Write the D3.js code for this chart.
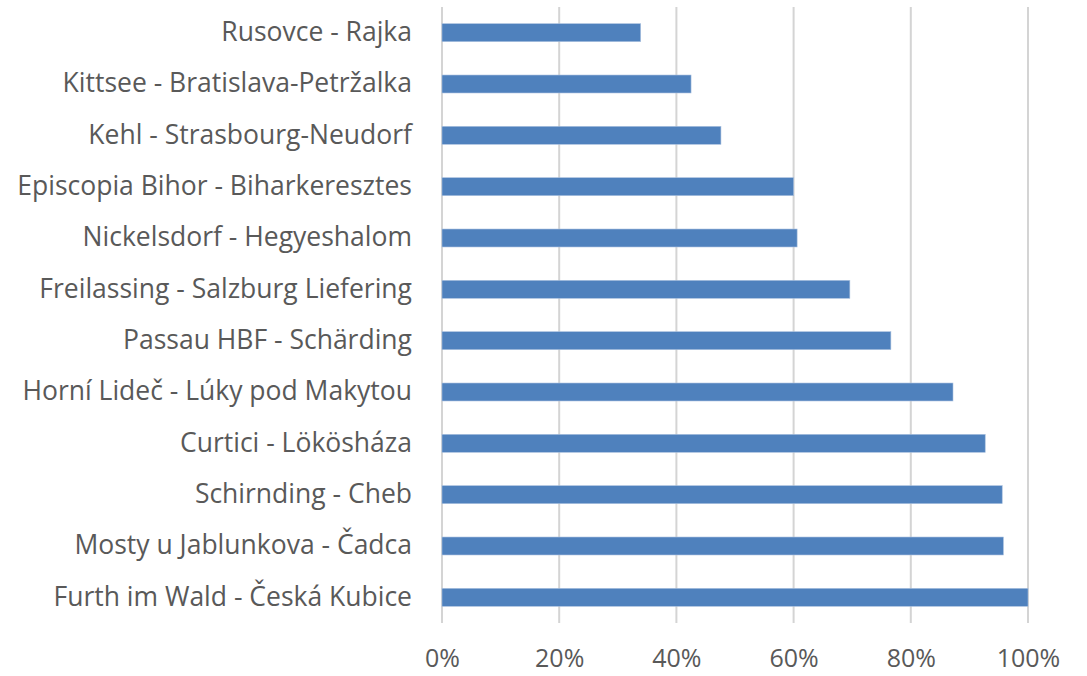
<!DOCTYPE html>
<html>
<head>
<meta charset="utf-8">
<script src="https://cdn.jsdelivr.net/npm/d3@7"></script>
<style>
  body { margin: 0; background: #fff; }
  svg text { font-family: "Open Sans", Lato, sans-serif; fill: #595959; }
</style>
</head>
<body>
<div id="chart"></div>
<script>
// crossings, top to bottom
const crossings = [
  "Rusovce - Rajka",
  "Kittsee - Bratislava-Petržalka",
  "Kehl - Strasbourg-Neudorf",
  "Episcopia Bihor - Biharkeresztes",
  "Nickelsdorf - Hegyeshalom",
  "Freilassing - Salzburg Liefering",
  "Passau HBF - Schärding",
  "Horní Lideč - Lúky pod Makytou",
  "Curtici - Lökösháza",
  "Schirnding - Cheb",
  "Mosty u Jablunkova - Čadca",
  "Furth im Wald - Česká Kubice"
];
const shares = [0.339, 0.425, 0.476, 0.600, 0.606, 0.696, 0.766, 0.872, 0.927, 0.956, 0.958, 1.0];
const xTicks = [0, 0.2, 0.4, 0.6, 0.8, 1.0];

const data = crossings.map((c, i) => ({name: c, value: shares[i]}));

const width = 1087, height = 676;
const margin = {top: 7, right: 59, bottom: 53, left: 442};
const innerW = width - margin.left - margin.right;
const innerH = height - margin.top - margin.bottom;

const svg = d3.select("#chart")
    .append("svg")
    .attr("width", width)
    .attr("height", height)
    .append("g")
    .attr("transform", "translate(" + margin.left + "," + margin.top + ")");

const x = d3.scaleLinear()
    .domain([0, 1])
    .range([0, innerW]);

const y = d3.scaleBand()
    .domain(crossings)
    .range([0, innerH])
    .paddingInner(0.65)
    .paddingOuter(0.325);

// vertical gridlines
svg.append("g")
    .selectAll("line")
    .data(xTicks)
    .join("line")
    .attr("x1", d => x(d))
    .attr("x2", d => x(d))
    .attr("y1", 0)
    .attr("y2", innerH)
    .attr("stroke", "#d4d4d4")
    .attr("stroke-width", 2);

// bars
svg.append("g")
    .selectAll("rect")
    .data(data)
    .join("rect")
    .attr("x", x(0))
    .attr("y", d => y(d.name))
    .attr("width", d => x(d.value) - x(0))
    .attr("height", y.bandwidth())
    .attr("fill", "#4f81bd")
    .attr("stroke", "#a9c0de")
    .attr("stroke-width", 0.6);

// x axis labels
const xAxis = svg.append("g")
    .attr("transform", "translate(0," + innerH + ")")
    .call(d3.axisBottom(x).tickValues(xTicks).tickFormat(d3.format(".0%")).tickSize(0).tickPadding(26));
xAxis.select(".domain").remove();
xAxis.selectAll("text").style("font-size", "25px").style("fill", "#595959");

// y axis labels
const yAxis = svg.append("g")
    .call(d3.axisLeft(y).tickSize(0).tickPadding(30));
yAxis.select(".domain").remove();
yAxis.selectAll("text").style("font-size", "26.5px").style("fill", "#595959");
</script>
</body>
</html>
